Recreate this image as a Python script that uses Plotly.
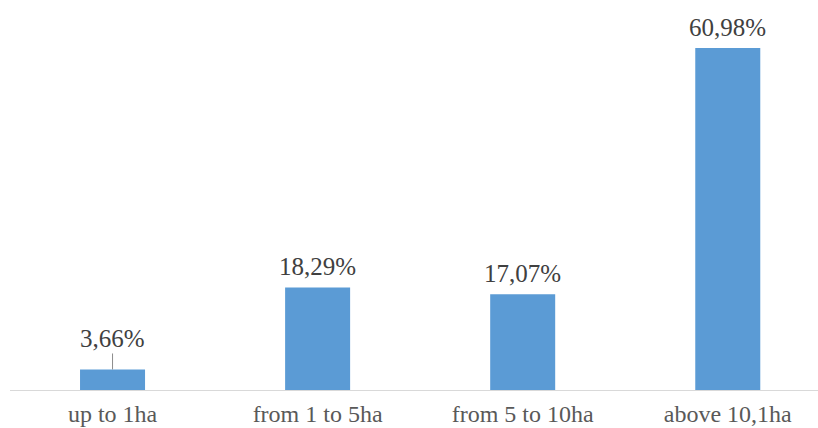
import plotly.graph_objects as go

# Farm size classes and their share of holdings (%)
categories = ["up to 1ha", "from 1 to 5ha", "from 5 to 10ha", "above 10,1ha"]
shares = [3.66, 18.29, 17.07, 60.98]

BAR_COLOR = "#5B9BD5"
LABEL_COLOR = "#404040"
TICK_COLOR = "#595959"
FONT = "Liberation Serif"


def pct_label(v):
    return f"{v:.2f}".replace(".", ",") + "%"


fig = go.Figure(
    go.Bar(
        x=list(range(len(categories))),
        y=shares,
        marker=dict(color=BAR_COLOR, line=dict(width=0)),
        hoverinfo="skip",
    )
)

# Value labels above each bar; the smallest bar gets its label lifted
# with a thin leader line back to the bar top.
for i, v in enumerate(shares):
    if i == 0:
        fig.add_annotation(
            x=i, y=v, xref="x", yref="y",
            text=pct_label(v),
            showarrow=True, arrowhead=0, arrowwidth=1, arrowcolor="#8c8c8c",
            ax=0, ay=-31, standoff=0,
            font=dict(family=FONT, size=25, color=LABEL_COLOR),
        )
    else:
        fig.add_annotation(
            x=i, y=v, xref="x", yref="y",
            text=pct_label(v),
            showarrow=False, yanchor="bottom", yshift=5,
            font=dict(family=FONT, size=25, color=LABEL_COLOR),
        )

fig.update_layout(
    width=818, height=428,
    margin=dict(l=10, r=0, t=0, b=38),
    paper_bgcolor="white", plot_bgcolor="white",
    bargap=0.683,
    showlegend=False,
    font=dict(family=FONT),
)
fig.update_xaxes(
    tickmode="array",
    tickvals=list(range(len(categories))),
    ticktext=categories,
    range=[-0.5, 3.44],
    showline=True, linecolor="#d9d9d9", linewidth=1,
    showgrid=False, zeroline=False,
    ticks="", ticklabelstandoff=2, automargin=False,
    tickfont=dict(family=FONT, size=24, color=TICK_COLOR),
)
fig.update_yaxes(
    range=[0, 69.54],
    visible=False, showgrid=False, zeroline=False,
)

fig.write_html("out.html")
